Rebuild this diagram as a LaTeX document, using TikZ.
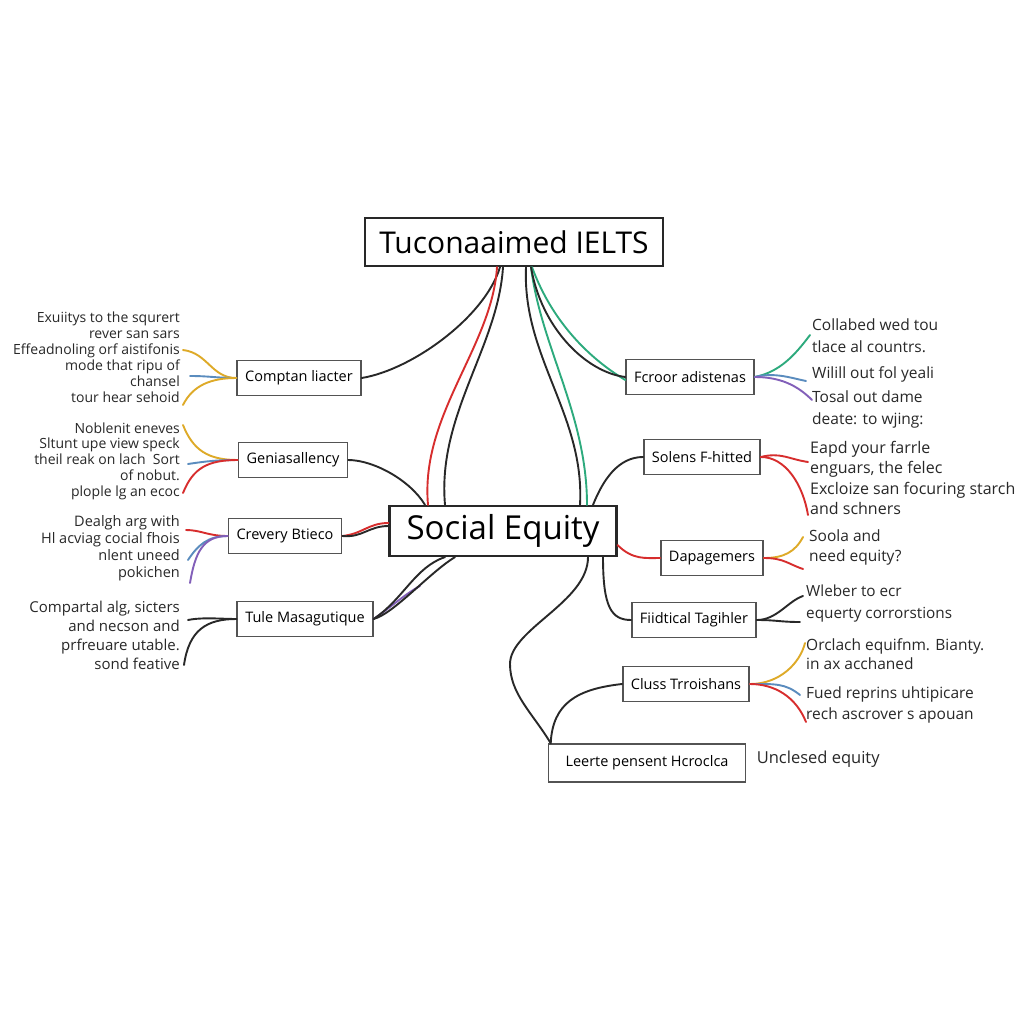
\documentclass[tikz,border=0pt]{standalone}
\usepackage{fontspec}
\setmainfont{Open Sans}
\usetikzlibrary{positioning}

\definecolor{cGold}{RGB}{222,170,40}
\definecolor{cBlue}{RGB}{90,140,190}
\definecolor{cRed}{RGB}{215,45,45}
\definecolor{cPurple}{RGB}{130,95,185}
\definecolor{cGreen}{RGB}{45,170,125}
\definecolor{cInk}{RGB}{40,40,40}

\tikzset{
    topic/.style={draw=cInk, line width=2.2pt, fill=white, inner xsep=14pt, minimum height=48pt, font=\fontsize{30}{34}\selectfont},
    branch/.style={draw=cInk!80, line width=1.6pt, fill=white, inner xsep=8pt, minimum height=35pt, font=\fontsize{14.5}{16}\selectfont},
    leafl/.style={anchor=east, align=right, inner sep=0pt, text=cInk, font=\fontsize{14}{16}\selectfont},
    leafr/.style={anchor=west, align=left, inner sep=0pt, text=cInk, font=\fontsize{15.5}{22}\selectfont},
    wire/.style={line width=1.9pt, line cap=round},
}

\begin{document}
\begin{tikzpicture}[x=1pt, y=-1pt, node distance=1mm]
    \fill[white] (0,0) rectangle (1024,1024);
    \useasboundingbox (0,0) rectangle (1024,1024);

    % centre and branches
    \node[topic] (title) at (514,242) {Tuconaaimed IELTS};
    \node[topic, minimum height=50pt, inner xsep=17pt, font=\fontsize{33}{36}\selectfont] (equity) at (503,531) {Social Equity};
    \node[branch] (comptan) at (299,378) {Comptan liacter};
    \node[branch] (genia) at (293,460) {Geniasallency};
    \node[branch] (crevery) at (285,536) {Crevery Btieco};
    \node[branch] (tule) at (305,619) {Tule Masagutique};
    \node[branch] (fcroor) at (690,377) {Fcroor adistenas};
    \node[branch] (solens) at (702,457) {Solens F-hitted};
    \node[branch] (dapage) at (712,558) {Dapagemers};
    \node[branch] (fiidt) at (694,620) {Fiidtical Tagihler};
    \node[branch] (cluss) at (686,684) {Cluss Trroishans};
    \node[branch, minimum height=38pt, inner xsep=17pt] (leerte) at (647,763) {Leerte pensent Hcroclca};
    \node[right = 7pt of leerte, font=\fontsize{16.5}{18}\selectfont, text=cInk, yshift=4pt] (unclesed) {Unclesed equity};

    % leaf texts
    \node[leafl] (comptanText) at (180,357) {Exuiitys to the squrert\\rever san sars\\Effeadnoling orf aistifonis\\mode that ripu of\\chansel\\tour hear sehoid};
    \node[leafl, font=\fontsize{14}{15.8}\selectfont] (geniaText) at (180,461) {Noblenit eneves\\Sltunt upe view speck\\theil reak on lach\ \ Sort\\of nobut.\\plople lg an ecoc};
    \node[leafl, font=\fontsize{14.5}{17}\selectfont] (creveryText) at (180,548) {Dealgh arg with\\Hl acviag cocial fhois\\nlent uneed\\pokichen};
    \node[leafl, font=\fontsize{15}{19}\selectfont] (tuleText) at (180,635) {Compartal alg, sicters\\and necson and\\prfreuare utable.\\sond feative};
    \node[leafr] (fcroorTextA) at (812,336) {Collabed wed tou\\tlace al countrs.};
    \node[leafr] (fcroorTextB) at (812,374) {Wilill out fol yeali};
    \node[leafr] (fcroorTextC) at (812,409) {Tosal out dame\\deate: to wjing:};
    \node[leafr, font=\fontsize{16}{20.5}\selectfont] (solensText) at (810,478) {Eapd your farrle\\enguars, the felec\\Excloize san focuring starch\\and schners};
    \node[leafr, font=\fontsize{15.5}{20}\selectfont] (dapageText) at (809,547) {Soola and\\need equity?};
    \node[leafr, font=\fontsize{15.3}{22}\selectfont] (fiidtText) at (806,604) {Wleber to ecr\\equerty corrorstions};
    \node[leafr, font=\fontsize{15.5}{19}\selectfont] (clussTextA) at (806,654) {Orclach equifnm. Bianty.\\in ax acchaned};
    \node[leafr, font=\fontsize{15.5}{21}\selectfont] (clussTextB) at (806,705) {Fued reprins uhtipicare\\rech ascrover s apouan};

    % free ends of the fans
    \coordinate (cmA) at (183,350);
    \coordinate (cmB) at (190,376);
    \coordinate (cmC) at (183,405);
    \coordinate (gnA) at (183,425);
    \coordinate (gnB) at (188,464);
    \coordinate (gnC) at (183,493);
    \coordinate (crA) at (186,530);
    \coordinate (crB) at (188,560);
    \coordinate (crC) at (190,583);
    \coordinate (tuA) at (188,620);
    \coordinate (tuB) at (184,665);
    \coordinate (fcA) at (810,335);
    \coordinate (fcB) at (806,381);
    \coordinate (fcC) at (812,400);
    \coordinate (soA) at (808,462);
    \coordinate (soB) at (808,515);
    \coordinate (daA) at (803,537);
    \coordinate (daB) at (803,569);
    \coordinate (fiA) at (803,596);
    \coordinate (fiB) at (800,622);
    \coordinate (clA) at (805,643);
    \coordinate (clB) at (800,695);
    \coordinate (clC) at (806,722);
    \coordinate (tuP) at (420,586);
    \coordinate (leBend) at (510,664);

    % main connectors
    \draw[wire, cInk] ([xshift=-14pt]title.south) .. controls +(-15,50) and +(50,-8) .. (comptan.east);
    \draw[wire, cRed] ([xshift=-17pt]title.south) .. controls +(-5,80) and +(-8,-90) .. ([xshift=-75pt]equity.north);
    \draw[wire, cInk] ([xshift=-11pt]title.south) .. controls +(-5,80) and +(-8,-90) .. ([xshift=-58pt]equity.north);
    \draw[wire, cGreen] ([xshift=17pt]title.south) .. controls +(10,80) and +(0,-90) .. ([xshift=84pt]equity.north);
    \draw[wire, cInk] ([xshift=12pt]title.south) .. controls +(-4,90) and +(5,-90) .. ([xshift=77pt]equity.north);
    \draw[wire, cGreen] ([xshift=18pt]title.south) .. controls +(22,60) and +(-30,-18) .. ([yshift=-3pt]fcroor.west);
    \draw[wire, cInk] ([xshift=17pt]title.south) .. controls +(10,60) and +(-40,-5) .. (fcroor.west);
    \draw[wire, cInk] (genia.east) .. controls +(25,0) and +(-15,-25) .. ([xshift=-78pt]equity.north);
    \draw[wire, cRed] (crevery.east) .. controls +(20,-2) and +(-20,0) .. ([yshift=8pt]equity.west);
    \draw[wire, cInk] (crevery.east) .. controls +(20,2) and +(-20,0) .. ([yshift=5pt]equity.west);
    \draw[wire, cPurple] (tule.east) .. controls +(15,-10) and +(-15,8) .. (tuP);
    \draw[wire, cInk] (tule.east) .. controls +(20,-5) and +(-25,15) .. ([xshift=-48pt]equity.south);
    \draw[wire, cInk] (tule.east) .. controls +(30,-20) and +(-30,10) .. ([xshift=-58pt]equity.south);
    \draw[wire, cInk] (solens.west) .. controls +(-25,0) and +(10,-25) .. ([xshift=90pt]equity.north);
    \draw[wire, cRed] ([yshift=-14pt]equity.east) .. controls +(15,15) and +(-15,0) .. (dapage.west);
    \draw[wire, cInk] ([xshift=100pt]equity.south) .. controls +(0,50) and +(-20,0) .. (fiidt.west);
    \draw[wire, cInk] ([xshift=85pt]equity.south) .. controls +(0,45) and +(0,-35) .. (leBend)
        .. controls +(0,30) and +(-18,-30) .. ([xshift=3pt]leerte.north west);
    \draw[wire, cInk] ([xshift=3pt]leerte.north west) .. controls +(2,-40) and +(-45,5) .. (cluss.west);

    % fans on the left
    \draw[wire, cGold] (cmA) .. controls +(25,3) and +(-25,0) .. (comptan.west);
    \draw[wire, cBlue] (cmB) .. controls +(20,0) and +(-20,0) .. (comptan.west);
    \draw[wire, cGold] (cmC) .. controls +(10,-20) and +(-25,0) .. (comptan.west);
    \draw[wire, cGold] (gnA) .. controls +(10,25) and +(-30,0) .. (genia.west);
    \draw[wire, cBlue] (gnB) .. controls +(20,-3) and +(-20,0) .. (genia.west);
    \draw[wire, cRed] (gnC) .. controls +(10,-25) and +(-30,0) .. (genia.west);
    \draw[wire, cRed] (crA) .. controls +(15,0) and +(-20,0) .. (crevery.west);
    \draw[wire, cBlue] (crB) .. controls +(10,-15) and +(-20,0) .. (crevery.west);
    \draw[wire, cPurple] (crC) .. controls +(5,-30) and +(-25,0) .. (crevery.west);
    \draw[wire, cInk] (tuA) .. controls +(15,-3) and +(-15,0) .. (tule.west);
    \draw[wire, cInk] (tuB) .. controls +(5,-35) and +(-30,0) .. (tule.west);

    % fans on the right
    \draw[wire, cGreen] (fcroor.east) .. controls +(25,-5) and +(-15,20) .. (fcA);
    \draw[wire, cBlue] (fcroor.east) .. controls +(20,-5) and +(-15,-3) .. (fcB);
    \draw[wire, cPurple] (fcroor.east) .. controls +(25,0) and +(-15,-15) .. (fcC);
    \draw[wire, cRed] (solens.east) .. controls +(20,-5) and +(-20,-3) .. (soA);
    \draw[wire, cRed] (solens.east) .. controls +(25,0) and +(-5,-30) .. (soB);
    \draw[wire, cGold] (dapage.east) .. controls +(20,0) and +(-8,15) .. (daA);
    \draw[wire, cRed] (dapage.east) .. controls +(20,0) and +(-15,-5) .. (daB);
    \draw[wire, cInk] (fiidt.east) .. controls +(20,0) and +(-15,5) .. (fiA);
    \draw[wire, cInk] (fiidt.east) .. controls +(20,0) and +(-20,0) .. (fiB);
    \draw[wire, cGold] (cluss.east) .. controls +(30,0) and +(-5,20) .. (clA);
    \draw[wire, cBlue] (cluss.east) .. controls +(25,0) and +(-15,-12) .. (clB);
    \draw[wire, cRed] (cluss.east) .. controls +(25,0) and +(-10,-25) .. (clC);
\end{tikzpicture}
\end{document}
